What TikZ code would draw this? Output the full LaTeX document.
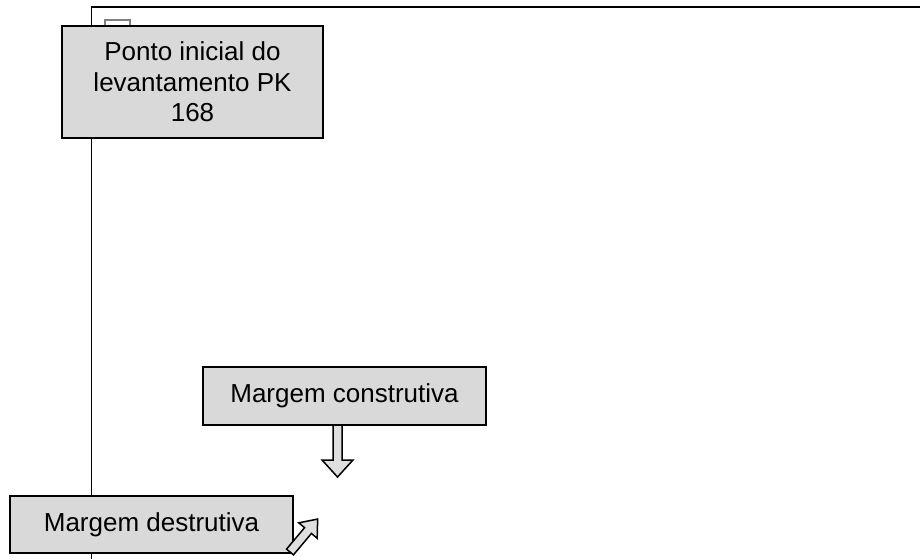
\documentclass[tikz,border=0pt]{standalone}
\usepackage{fontspec}
\setmainfont{Liberation Sans}
\begin{document}
\begin{tikzpicture}[x=1pt,y=-1pt,
  lbl/.style={draw=black,line width=1.8pt,fill=gray!30,inner sep=0pt,align=center,font=\fontsize{26}{30.5}\selectfont},
  blockarrow/.style={draw=black,line width=1.5pt,fill=gray!25,line join=miter}]
\useasboundingbox (0,0) rectangle (920,559);
% frame
\coordinate (fbl) at (91.5,559);
\coordinate (ftl) at (91.5,7);
\coordinate (ftr) at (920,7);
\draw[line width=1.9pt] (fbl) -- (ftl) -- (ftr);
% small hidden box
\draw[draw=gray,line width=1.3pt,fill=white] (105,20) rectangle (130,32);
% boxes
\node[lbl,minimum width=261pt,minimum height=112pt] (pk) at (192.5,82) {Ponto inicial do\\levantamento PK\\168};
\node[lbl,minimum width=283pt,minimum height=58pt] (mc) at (344.5,396) {Margem construtiva};
\node[lbl,minimum width=283pt,minimum height=57pt] (md) at (151.5,524.5) {Margem destrutiva};
% down arrow
\draw[blockarrow] (333,425) -- (342,425) -- (342,460) -- (353,460) -- (337.5,477) -- (322,460) -- (333,460) -- cycle;
% diagonal arrow
\begin{scope}[shift={(290,552)},rotate=50]
\draw[blockarrow] (0,-4.5) -- (28,-4.5) -- (28,-12) -- (43,0) -- (28,12) -- (28,4.5) -- (0,4.5) -- cycle;
\end{scope}
\end{tikzpicture}
\end{document}
